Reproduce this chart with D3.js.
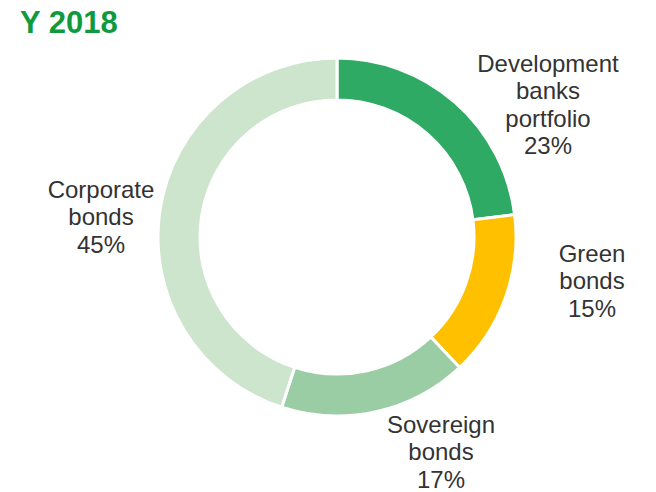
<!DOCTYPE html>
<html>
<head>
<meta charset="utf-8">
<script src="https://cdn.jsdelivr.net/npm/d3@7"></script>
<style>
  html, body { margin: 0; padding: 0; background: #fff; }
  svg { display: block; }
</style>
</head>
<body>
<svg id="chart" width="656" height="492"></svg>
<script>
const title = "Y 2018";
const categories = ["Development banks portfolio", "Green bonds", "Sovereign bonds", "Corporate bonds"];
const values = [23, 15, 17, 45];
const colors = ["#2eaa64", "#ffc000", "#9bcda4", "#cde5cc"];
const labelLines = [
  ["Development", "banks", "portfolio"],
  ["Green", "bonds"],
  ["Sovereign", "bonds"],
  ["Corporate", "bonds"]
];
// label anchor positions relative to chart centre (layout)
const labelPos = [[211, -165], [255, 25], [104, 196], [-236, -39]];

const svg = d3.select("#chart");
const cx = 337, cy = 237, R = 179, r = 137;

svg.append("text")
  .attr("x", 20).attr("y", 33)
  .attr("font-family", "'Liberation Sans', Arial, sans-serif")
  .attr("font-weight", "bold")
  .attr("font-size", 31)
  .attr("fill", "#109a3e")
  .text(title);

const data = categories.map((c, i) => ({ name: c, value: values[i], color: colors[i], lines: labelLines[i], pos: labelPos[i] }));

const pie = d3.pie().value(d => d.value).sort(null);
const arc = d3.arc().innerRadius(r).outerRadius(R);

const g = svg.append("g").attr("transform", `translate(${cx},${cy})`);
g.selectAll("path")
  .data(pie(data))
  .join("path")
  .attr("d", arc)
  .attr("fill", d => d.data.color)
  .attr("stroke", "#fff")
  .attr("stroke-width", 3);

const fmt = d3.format(".0%");
const lh = 27.4;
const lab = g.selectAll("text.lab")
  .data(data)
  .join("text")
  .attr("class", "lab")
  .attr("text-anchor", "middle")
  .attr("font-family", "'Liberation Sans', Arial, sans-serif")
  .attr("font-size", 24)
  .attr("fill", "#333333");
lab.each(function(d) {
  const t = d3.select(this);
  const all = d.lines.concat([fmt(d.value / d3.sum(values))]);
  all.forEach((s, i) => {
    t.append("tspan")
      .attr("x", d.pos[0])
      .attr("y", d.pos[1] + i * lh)
      .text(s);
  });
});
</script>
</body>
</html>
